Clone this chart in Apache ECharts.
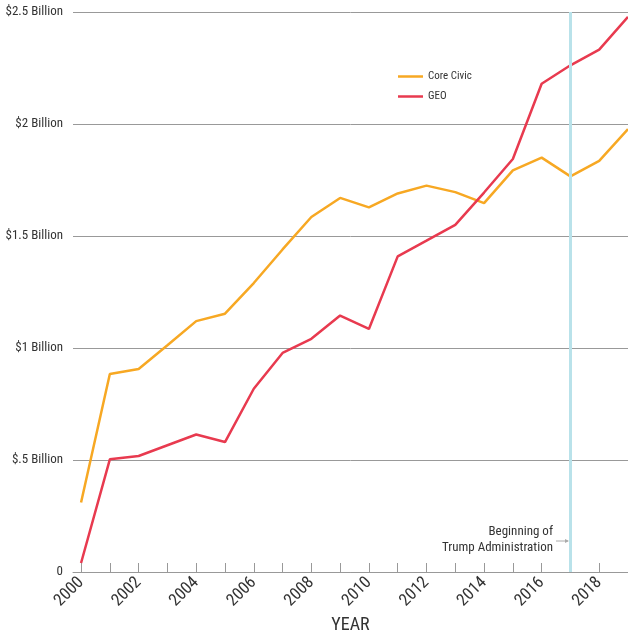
<!DOCTYPE html>
<html>
<head>
<meta charset="utf-8">
<script src="https://cdn.jsdelivr.net/npm/echarts@6/dist/echarts.min.js"></script>
<style>
html, body { margin: 0; padding: 0; background: #fff; }
#chart { width: 628px; height: 637px; }
</style>
</head>
<body>
<div id="chart"></div>
<script>
// data
var years = [2000, 2001, 2002, 2003, 2004, 2005, 2006, 2007, 2008, 2009,
             2010, 2011, 2012, 2013, 2014, 2015, 2016, 2017, 2018, 2019];
var coreCivic = [0.31, 0.884, 0.906, 1.012, 1.12, 1.153, 1.29, 1.44, 1.585, 1.67,
                 1.628, 1.69, 1.725, 1.696, 1.647, 1.793, 1.85, 1.766, 1.835, 1.977];
var geo = [0.04, 0.503, 0.518, 0.566, 0.614, 0.58, 0.818, 0.978, 1.041, 1.145,
           1.085, 1.409, 1.479, 1.55, 1.694, 1.844, 2.18, 2.262, 2.332, 2.478];
var yTickLabels = { 0: '0', 0.5: '$.5 Billion', 1: '$1 Billion', 1.5: '$1.5 Billion', 2: '$2 Billion', 2.5: '$2.5 Billion' };
var labelYears = [2000, 2002, 2004, 2006, 2008, 2010, 2012, 2014, 2016, 2018];
var trumpYear = 2017;

var FONT = '"Roboto Condensed", "Liberation Sans Narrow", Roboto, sans-serif';

function pairs(vals) {
    return years.map(function (y, i) { return [y, vals[i]]; });
}

var chart = echarts.init(document.getElementById('chart'));
var option = {
    animation: false,
    textStyle: { fontFamily: FONT },
    grid: { left: 73, right: 0, top: 12, bottom: 65, outerBoundsMode: 'none', containLabel: false },
    legend: {
        orient: 'vertical',
        left: 398,
        top: 71,
        padding: 0,
        itemWidth: 25,
        itemHeight: 10,
        itemGap: 9,
        icon: 'path://M0,4 L25,4 L25,6.5 L0,6.5 Z',
        textStyle: { fontFamily: FONT, fontSize: 11, color: '#333', padding: [0, 0, 0, 0] },
        data: ['Core Civic', 'GEO']
    },
    xAxis: {
        type: 'value',
        min: 1999.72,
        max: 2019,
        name: 'YEAR',
        nameLocation: 'middle',
        nameGap: 44,
        nameMoveOverlap: false,
        nameTextStyle: { fontFamily: FONT, fontSize: 18, color: '#333' },
        axisLine: { show: true, lineStyle: { color: '#999', width: 1 } },
        axisTick: { show: true, inside: true, length: 9, lineStyle: { color: '#999' }, customValues: years.slice(0, 19) },
        axisLabel: {
            customValues: labelYears,
            rotate: 45,
            margin: 8,
            fontSize: 17,
            color: '#333',
            fontFamily: FONT,
            formatter: function (v) { return String(v); }
        },
        splitLine: { show: false }
    },
    yAxis: {
        type: 'value',
        min: 0,
        max: 2.5,
        interval: 0.5,
        axisLine: { show: false },
        axisTick: { show: false },
        axisLabel: {
            margin: 10,
            fontSize: 13,
            color: '#333',
            fontFamily: FONT,
            formatter: function (v) { return yTickLabels[v]; }
        },
        splitLine: { lineStyle: { color: '#999', width: 1 } }
    },
    series: [{
        name: 'Core Civic',
        type: 'line',
        data: pairs(coreCivic),
        symbol: 'none',
        color: '#F7A823',
        lineStyle: { width: 2.5, color: '#F7A823' },
        markLine: {
            silent: true,
            symbol: 'none',
            label: { show: false },
            lineStyle: { color: '#B9E2EA', width: 3, type: 'solid' },
            data: [{ xAxis: trumpYear }]
        },
        z: 3
    }, {
        name: 'GEO',
        type: 'line',
        data: pairs(geo),
        symbol: 'none',
        color: '#E83A4F',
        lineStyle: { width: 2.5, color: '#E83A4F' },
        z: 4
    }],
    graphic: [{
        type: 'text',
        x: 553,
        y: 532,
        style: {
            text: 'Beginning of',
            font: '13px ' + FONT,
            fill: '#333',
            align: 'right',
            verticalAlign: 'middle'
        }
    }, {
        type: 'text',
        x: 553,
        y: 548,
        style: {
            text: 'Trump Administration',
            font: '13px ' + FONT,
            fill: '#333',
            align: 'right',
            verticalAlign: 'middle'
        }
    }, {
        type: 'line',
        shape: { x1: 556, y1: 541, x2: 568, y2: 541 },
        style: { stroke: '#aaa', lineWidth: 1 }
    }, {
        type: 'polygon',
        shape: { points: [[569, 541], [565, 539], [565, 543]] },
        style: { fill: '#aaa' }
    }]
};
chart.setOption(option);
</script>
</body>
</html>
